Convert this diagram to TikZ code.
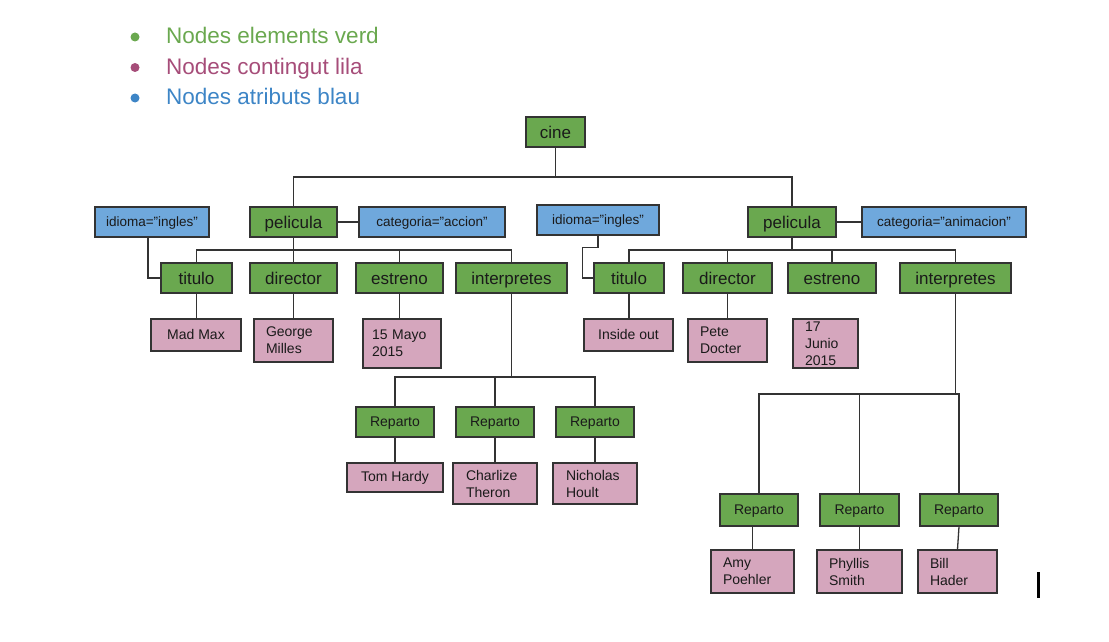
\documentclass[tikz,border=0pt]{standalone}
\usepackage{fontspec}
\setmainfont{Liberation Sans}
\definecolor{gcol}{HTML}{6AA84F}
\definecolor{pcol}{HTML}{A64D79}
\definecolor{bcol}{HTML}{3D85C6}
\definecolor{gfill}{HTML}{6AA84F}
\definecolor{pfill}{HTML}{D5A6BD}
\definecolor{bfill}{HTML}{6FA8DC}
\definecolor{linec}{HTML}{333333}
\definecolor{txt}{HTML}{1A1A1A}
\begin{document}
\begin{tikzpicture}[x=1pt,y=-1pt,
  box/.style={draw=linec, line width=1.3pt, inner sep=0pt, text=txt},
  el/.style={box, fill=gfill, font=\fontsize{17}{20}\selectfont, text height=14.5pt, text depth=1.5pt, minimum height=30pt},
  rep/.style={box, fill=gfill, font=\fontsize{14}{17}\selectfont, text height=11.5pt, text depth=2pt},
  attr/.style={box, fill=bfill, font=\fontsize{13.5}{16}\selectfont, text height=11pt, text depth=2pt, minimum height=30pt},
  ct/.style={box, fill=pfill, font=\fontsize{14}{17}\selectfont, text height=11pt, text depth=2.5pt},
  ctm/.style={box, fill=pfill, font=\fontsize{14}{17}\selectfont, align=left},
  conn/.style={draw=linec, line width=1.3pt},
  legtxt/.style={anchor=base west, inner sep=0pt, font=\fontsize{22.5}{27}\selectfont},
  bullet/.style={circle, inner sep=0pt, minimum size=9pt}
]
\useasboundingbox (0,0) rectangle (1109,642);

% legend
\node[bullet, fill=gcol] (l1) at (135,37) {};
\node[bullet, fill=pcol] (l2) at (135,67.5) {};
\node[bullet, fill=bcol] (l3) at (135,98) {};
\node[legtxt, text=gcol] (t1) at (166,43.5) {Nodes elements verd};
\node[legtxt, text=pcol] (t2) at (166,74.5) {Nodes contingut lila};
\node[legtxt, text=bcol] (t3) at (166,105) {Nodes atributs blau};

% root
\node[el, minimum width=59pt] (cine) at (555.5,132) {cine};

% first pelicula
\node[el, minimum width=87pt] (pel1) at (293.5,222) {pelicula};
\node[attr, minimum width=146pt] (cat1) at (432,222) {categoria="accion"};
\node[attr, minimum width=114pt] (idi1) at (152,222) {idioma="ingles"};
\node[el, minimum width=71pt] (tit1) at (196.5,278) {titulo};
\node[el, minimum width=87pt] (dir1) at (293.5,278) {director};
\node[el, minimum width=87pt] (est1) at (399.5,278) {estreno};
\node[el, minimum width=111pt] (int1) at (511.5,278) {interpretes};
\node[ct, minimum width=90pt, minimum height=32pt] (mad) at (196,335) {Mad Max};
\node[ctm, text width=55pt, minimum width=79pt, minimum height=43pt] (geo) at (293.5,340.5) {George\\Milles};
\node[ctm, text width=60pt, minimum width=78pt, minimum height=49pt] (may) at (402,343.5) {15 Mayo\\2015};
\node[rep, minimum width=78pt, minimum height=30pt] (rep1) at (395,422) {Reparto};
\node[rep, minimum width=78pt, minimum height=30pt] (rep2) at (495,422) {Reparto};
\node[rep, minimum width=78pt, minimum height=30pt] (rep3) at (595,422) {Reparto};
\node[ct, minimum width=96pt, minimum height=29pt] (tom) at (395,477.5) {Tom Hardy};
\node[ctm, text width=58pt, minimum width=84pt, minimum height=41pt] (cha) at (495,483.5) {Charlize\\Theron};
\node[ctm, text width=58pt, minimum width=84pt, minimum height=41pt] (nic) at (595,483.5) {Nicholas\\Hoult};

% second pelicula
\node[el, minimum width=88pt] (pel2) at (792,222) {pelicula};
\node[attr, minimum width=164pt] (cat2) at (944,222) {categoria="animacion"};
\node[attr, minimum width=122pt] (idi2) at (598,220) {idioma="ingles"};
\node[el, minimum width=70pt] (tit2) at (629,278) {titulo};
\node[el, minimum width=89pt] (dir2) at (727.5,278) {director};
\node[el, minimum width=88pt] (est2) at (832,278) {estreno};
\node[el, minimum width=111pt] (int2) at (955.5,278) {interpretes};
\node[ct, minimum width=89pt, minimum height=32pt] (ins) at (628.5,335) {Inside out};
\node[ctm, text width=55pt, minimum width=79pt, minimum height=43pt] (pet) at (727.5,340.5) {Pete\\Docter};
\node[ctm, text width=41pt, minimum width=65pt, minimum height=49pt] (jun) at (825.5,343.5) {17\\Junio\\2015};
\node[rep, minimum width=78pt, minimum height=32pt] (rep4) at (759,510) {Reparto};
\node[rep, minimum width=79pt, minimum height=32pt] (rep5) at (859.5,510) {Reparto};
\node[rep, minimum width=78pt, minimum height=32pt] (rep6) at (959,510) {Reparto};
\node[ctm, text width=59pt, minimum width=83pt, minimum height=43pt] (amy) at (752.5,571.5) {Amy\\Poehler};
\node[ctm, text width=61pt, minimum width=85pt, minimum height=43pt] (phy) at (859.5,571.5) {Phyllis\\Smith};
\node[ctm, text width=55pt, minimum width=79pt, minimum height=43pt] (bil) at (957.5,571.5) {Bill\\Hader};

% bus coordinates
\coordinate (b0) at (555.5,177);
\coordinate (b1) at (293.5,250);
\coordinate (b2) at (792,250);
\coordinate (b3) at (511.5,377);
\coordinate (b4) at (955.5,394);

% connectors
\draw[conn] (cine.south) -- (b0) -| (pel1.north);
\draw[conn] (b0) -| (pel2.north);
\draw[conn] (pel1.east) -- (cat1.west);
\draw[conn] (pel2.east) -- (cat2.west);
\draw[conn] (pel1.south) -- (b1) -| (tit1.north);
\draw[conn] (b1) -- (dir1.north);
\draw[conn] (b1) -| (est1.north);
\draw[conn] (b1) -| (int1.north);
\draw[conn] (pel2.south) -- (b2) -| (tit2.north);
\draw[conn] (b2) -| (dir2.north);
\draw[conn] (b2) -| (est2.north);
\draw[conn] (b2) -| (int2.north);
\draw[conn] ([xshift=-4pt]idi1.south) |- (tit1.west);
\draw[conn] (idi2.south) -- ++(0,12) -| ([xshift=-11pt]tit2.west) -- (tit2.west);
\draw[conn] (tit1.south) -- (mad.north -| tit1.south);
\draw[conn] (dir1.south) -- (geo.north -| dir1.south);
\draw[conn] (est1.south) -- (may.north -| est1.south);
\draw[conn] (tit2.south) -- (ins.north -| tit2.south);
\draw[conn] (dir2.south) -- (pet.north -| dir2.south);
\draw[conn] (int1.south) -- (b3) -| (rep1.north);
\draw[conn] (b3) -| (rep2.north);
\draw[conn] (b3) -| (rep3.north);
\draw[conn] (int2.south) -- (b4) -| (rep4.north);
\draw[conn] (b4) -| (rep5.north);
\draw[conn] (b4) -| (rep6.north);
\draw[conn] (rep1.south) -- (tom.north -| rep1.south);
\draw[conn] (rep2.south) -- (cha.north -| rep2.south);
\draw[conn] (rep3.south) -- (nic.north -| rep3.south);
\draw[conn] (amy.north) -- (rep4.south -| amy.north);
\draw[conn] (rep5.south) -- (phy.north -| rep5.south);
\draw[conn] (rep6.south) -- (bil.north);

% text cursor
\fill[black] (1037,572) rectangle (1040,598);
\end{tikzpicture}
\end{document}
